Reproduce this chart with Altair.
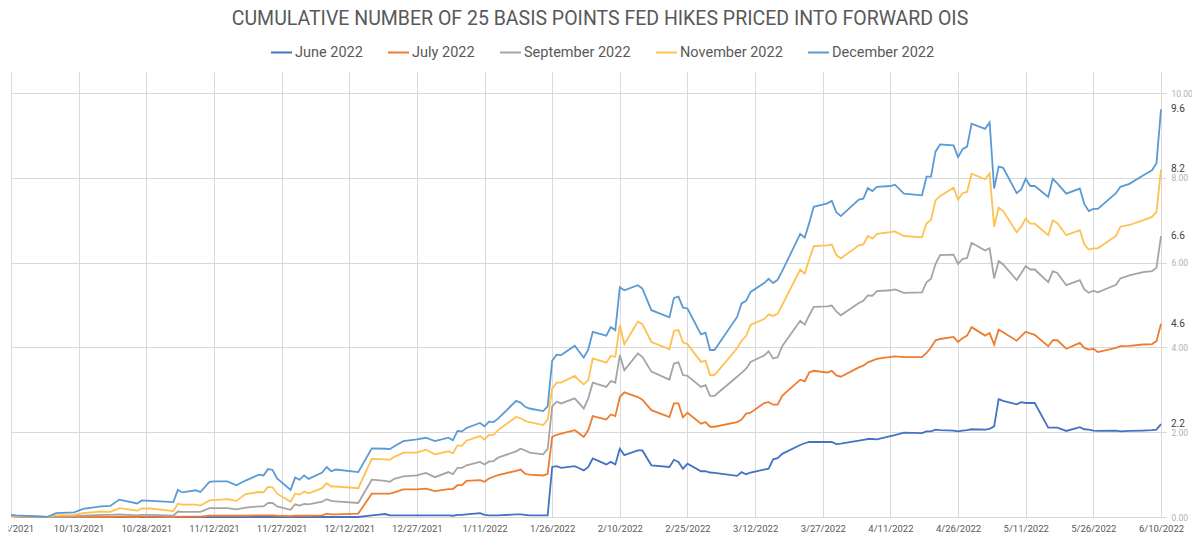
import altair as alt
import pandas as pd

dates = [
    "2021-09-28", "2021-09-29", "2021-10-06", "2021-10-08", "2021-10-12", "2021-10-14",
    "2021-10-18", "2021-10-20", "2021-10-22", "2021-10-26", "2021-10-27", "2021-10-29",
    "2021-11-03", "2021-11-04", "2021-11-05", "2021-11-08", "2021-11-09", "2021-11-11",
    "2021-11-12", "2021-11-15", "2021-11-17", "2021-11-19", "2021-11-22", "2021-11-23",
    "2021-11-24", "2021-11-25", "2021-11-26", "2021-11-29", "2021-11-30", "2021-12-01",
    "2021-12-02", "2021-12-03", "2021-12-06", "2021-12-07", "2021-12-08", "2021-12-09",
    "2021-12-14", "2021-12-17", "2021-12-20", "2021-12-21", "2021-12-22", "2021-12-24",
    "2021-12-27", "2021-12-29", "2021-12-31", "2022-01-03", "2022-01-04", "2022-01-05",
    "2022-01-06", "2022-01-07", "2022-01-10", "2022-01-11", "2022-01-12", "2022-01-13",
    "2022-01-14", "2022-01-18", "2022-01-19", "2022-01-20", "2022-01-21", "2022-01-24",
    "2022-01-25", "2022-01-26", "2022-01-27", "2022-01-28", "2022-01-31", "2022-02-01",
    "2022-02-02", "2022-02-03", "2022-02-04", "2022-02-07", "2022-02-08", "2022-02-09",
    "2022-02-10", "2022-02-11", "2022-02-14", "2022-02-15", "2022-02-17", "2022-02-21",
    "2022-02-22", "2022-02-23", "2022-02-24", "2022-02-25", "2022-02-28", "2022-03-01",
    "2022-03-02", "2022-03-03", "2022-03-08", "2022-03-09", "2022-03-10", "2022-03-11",
    "2022-03-14", "2022-03-15", "2022-03-16", "2022-03-17", "2022-03-18", "2022-03-22",
    "2022-03-23", "2022-03-24", "2022-03-25", "2022-03-28", "2022-03-29", "2022-03-30",
    "2022-03-31", "2022-04-04", "2022-04-05", "2022-04-06", "2022-04-07", "2022-04-08",
    "2022-04-11", "2022-04-12", "2022-04-14", "2022-04-18", "2022-04-19", "2022-04-20",
    "2022-04-21", "2022-04-22", "2022-04-25", "2022-04-26", "2022-04-27", "2022-04-28",
    "2022-04-29", "2022-05-02", "2022-05-03", "2022-05-04", "2022-05-05", "2022-05-06",
    "2022-05-09", "2022-05-10", "2022-05-11", "2022-05-12", "2022-05-13", "2022-05-16",
    "2022-05-17", "2022-05-18", "2022-05-20", "2022-05-23", "2022-05-24", "2022-05-25",
    "2022-05-26", "2022-05-27", "2022-05-31", "2022-06-01", "2022-06-03", "2022-06-06",
    "2022-06-08", "2022-06-09", "2022-06-10",
]

june_2022 = [
    0.03, 0.02, 0.00, 0.00, 0.00, 0.00, 0.00, 0.00, 0.00, 0.00, 0.00, 0.00,
    0.00, 0.00, 0.00, 0.00, 0.00, 0.00, 0.00, 0.00, 0.00, 0.00, 0.00, 0.00,
    0.00, 0.00, 0.00, 0.00, 0.00, 0.00, 0.00, 0.00, 0.00, 0.00, 0.00, 0.00,
    0.00, 0.04, 0.07, 0.04, 0.04, 0.04, 0.04, 0.04, 0.04, 0.04, 0.03, 0.05,
    0.05, 0.06, 0.09, 0.05, 0.04, 0.04, 0.04, 0.06, 0.06, 0.05, 0.04, 0.04,
    0.04, 1.18, 1.20, 1.16, 1.20, 1.15, 1.10, 1.18, 1.38, 1.24, 1.30, 1.24,
    1.61, 1.46, 1.57, 1.57, 1.22, 1.18, 1.35, 1.30, 1.14, 1.26, 1.08, 1.08,
    1.05, 1.04, 0.97, 1.06, 1.01, 1.05, 1.12, 1.14, 1.36, 1.39, 1.49, 1.70,
    1.74, 1.77, 1.77, 1.77, 1.77, 1.72, 1.73, 1.80, 1.82, 1.84, 1.84, 1.83,
    1.91, 1.93, 1.99, 1.98, 2.02, 2.02, 2.06, 2.05, 2.04, 2.02, 2.04, 2.05,
    2.07, 2.06, 2.08, 2.14, 2.78, 2.74, 2.66, 2.71, 2.69, 2.69, 2.69, 2.11,
    2.11, 2.11, 2.03, 2.12, 2.07, 2.06, 2.04, 2.03, 2.04, 2.02, 2.03, 2.04,
    2.05, 2.06, 2.19,
]

july_2022 = [
    0.02, 0.01, 0.00, 0.00, 0.00, 0.00, 0.00, 0.00, 0.01, 0.00, 0.01, 0.01,
    0.00, 0.01, 0.01, 0.01, 0.01, 0.03, 0.03, 0.03, 0.03, 0.03, 0.04, 0.04,
    0.04, 0.04, 0.03, 0.02, 0.03, 0.03, 0.03, 0.03, 0.04, 0.08, 0.06, 0.06,
    0.08, 0.55, 0.55, 0.55, 0.58, 0.65, 0.65, 0.67, 0.61, 0.66, 0.66, 0.75,
    0.75, 0.85, 0.87, 0.83, 0.91, 0.95, 0.99, 1.09, 1.12, 1.02, 1.00, 0.98,
    1.02, 1.89, 1.94, 1.97, 2.05, 1.97, 1.89, 2.05, 2.38, 2.30, 2.42, 2.38,
    2.83, 2.94, 2.83, 2.77, 2.52, 2.36, 2.68, 2.68, 2.35, 2.46, 2.20, 2.24,
    2.13, 2.13, 2.24, 2.30, 2.44, 2.46, 2.69, 2.71, 2.65, 2.65, 2.86, 3.24,
    3.20, 3.41, 3.45, 3.41, 3.45, 3.34, 3.31, 3.53, 3.57, 3.65, 3.69, 3.73,
    3.78, 3.79, 3.77, 3.77, 3.87, 4.00, 4.17, 4.20, 4.25, 4.13, 4.22, 4.28,
    4.48, 4.28, 4.34, 4.07, 4.42, 4.36, 4.16, 4.27, 4.37, 4.33, 4.30, 4.03,
    4.17, 4.17, 3.97, 4.11, 3.99, 3.95, 3.97, 3.89, 3.99, 4.03, 4.04, 4.07,
    4.08, 4.15, 4.56,
]

september_2022 = [
    0.03, 0.02, 0.00, 0.01, 0.02, 0.03, 0.05, 0.05, 0.06, 0.04, 0.05, 0.05,
    0.03, 0.13, 0.12, 0.12, 0.12, 0.21, 0.21, 0.21, 0.18, 0.22, 0.25, 0.25,
    0.33, 0.33, 0.25, 0.17, 0.30, 0.27, 0.31, 0.30, 0.36, 0.42, 0.38, 0.37,
    0.33, 0.88, 0.85, 0.83, 0.90, 0.96, 0.98, 1.04, 0.94, 1.06, 1.01, 1.16,
    1.16, 1.22, 1.30, 1.24, 1.31, 1.32, 1.40, 1.55, 1.61, 1.57, 1.52, 1.48,
    1.61, 2.61, 2.72, 2.68, 2.80, 2.68, 2.56, 2.80, 3.17, 3.07, 3.21, 3.17,
    3.82, 3.46, 3.86, 3.78, 3.43, 3.24, 3.62, 3.65, 3.35, 3.33, 3.07, 3.11,
    2.86, 2.86, 3.31, 3.40, 3.50, 3.66, 3.81, 3.91, 3.74, 3.77, 4.03, 4.63,
    4.54, 4.76, 4.96, 4.97, 4.99, 4.85, 4.76, 5.05, 5.10, 5.23, 5.22, 5.33,
    5.35, 5.37, 5.29, 5.30, 5.54, 5.62, 5.97, 6.18, 6.19, 5.97, 6.09, 6.11,
    6.47, 6.29, 6.34, 5.63, 6.04, 5.96, 5.59, 5.75, 5.92, 5.84, 5.84, 5.54,
    5.80, 5.76, 5.47, 5.59, 5.37, 5.29, 5.34, 5.30, 5.48, 5.63, 5.70, 5.78,
    5.80, 5.88, 6.63,
]

november_2022 = [
    0.03, 0.02, 0.00, 0.04, 0.05, 0.09, 0.13, 0.12, 0.21, 0.15, 0.20, 0.20,
    0.14, 0.31, 0.29, 0.29, 0.27, 0.39, 0.40, 0.42, 0.38, 0.54, 0.59, 0.58,
    0.71, 0.70, 0.55, 0.36, 0.55, 0.53, 0.60, 0.56, 0.68, 0.80, 0.72, 0.72,
    0.68, 1.37, 1.36, 1.35, 1.42, 1.52, 1.52, 1.59, 1.48, 1.55, 1.50, 1.69,
    1.68, 1.80, 1.91, 1.83, 1.94, 1.94, 2.05, 2.36, 2.33, 2.27, 2.24, 2.17,
    2.30, 3.03, 3.17, 3.17, 3.33, 3.22, 3.13, 3.23, 3.74, 3.64, 3.80, 3.78,
    4.53, 4.08, 4.61, 4.55, 4.13, 3.96, 4.39, 4.41, 4.12, 4.08, 3.66, 3.69,
    3.35, 3.35, 3.98, 4.16, 4.27, 4.53, 4.67, 4.78, 4.74, 4.80, 5.00, 5.84,
    5.74, 6.08, 6.39, 6.41, 6.43, 6.18, 6.10, 6.41, 6.43, 6.63, 6.57, 6.68,
    6.72, 6.74, 6.63, 6.60, 6.93, 7.01, 7.47, 7.57, 7.77, 7.49, 7.64, 7.67,
    8.10, 7.97, 8.11, 6.85, 7.30, 7.22, 6.72, 6.85, 7.04, 6.92, 6.92, 6.65,
    7.00, 6.94, 6.65, 6.77, 6.43, 6.31, 6.34, 6.34, 6.63, 6.85, 6.89, 7.00,
    7.08, 7.20, 8.20,
]

december_2022 = [
    0.05, 0.04, 0.00, 0.09, 0.11, 0.19, 0.25, 0.26, 0.41, 0.32, 0.39, 0.38,
    0.35, 0.64, 0.58, 0.63, 0.59, 0.83, 0.84, 0.84, 0.75, 0.86, 1.00, 0.98,
    1.13, 1.11, 0.91, 0.64, 0.93, 0.88, 0.98, 0.90, 1.05, 1.18, 1.08, 1.12,
    1.06, 1.62, 1.61, 1.60, 1.67, 1.79, 1.83, 1.87, 1.79, 1.87, 1.81, 2.03,
    2.02, 2.10, 2.22, 2.14, 2.25, 2.24, 2.32, 2.74, 2.70, 2.60, 2.56, 2.50,
    2.61, 3.69, 3.83, 3.82, 4.04, 3.90, 3.76, 3.95, 4.37, 4.28, 4.48, 4.41,
    5.42, 5.35, 5.47, 5.39, 4.88, 4.71, 5.17, 5.20, 4.94, 4.92, 4.31, 4.35,
    3.94, 3.94, 4.72, 5.04, 5.10, 5.31, 5.52, 5.62, 5.52, 5.60, 5.80, 6.68,
    6.59, 6.94, 7.32, 7.40, 7.46, 7.19, 7.10, 7.49, 7.51, 7.76, 7.69, 7.79,
    7.81, 7.84, 7.63, 7.59, 8.03, 8.03, 8.62, 8.79, 8.77, 8.49, 8.68, 8.74,
    9.28, 9.16, 9.31, 7.75, 8.27, 8.24, 7.64, 7.73, 7.98, 7.81, 7.81, 7.55,
    7.98, 7.87, 7.63, 7.75, 7.38, 7.22, 7.27, 7.27, 7.64, 7.79, 7.86, 8.06,
    8.18, 8.35, 9.62,
]

series_names = ["June 2022", "July 2022", "September 2022", "November 2022", "December 2022"]
series_values = [june_2022, july_2022, september_2022, november_2022, december_2022]
series_colors = ["#4472C4", "#ED7D31", "#A5A5A5", "#FFC14F", "#5B9BD5"]

tick_dates = [
    "2021-09-28", "2021-10-13", "2021-10-28", "2021-11-12", "2021-11-27", "2021-12-12",
    "2021-12-27", "2022-01-11", "2022-01-26", "2022-02-10", "2022-02-25", "2022-03-12",
    "2022-03-27", "2022-04-11", "2022-04-26", "2022-05-11", "2022-05-26", "2022-06-10",
]
y_ticks = [0, 2, 4, 6, 8, 10]

title_text = "CUMULATIVE NUMBER OF 25 BASIS POINTS FED HIKES PRICED INTO FORWARD OIS"

rows = []
for name, vals in zip(series_names, series_values):
    for d, v in zip(dates, vals):
        rows.append({"date": d, "series": name, "value": v})
df = pd.DataFrame(rows)

end_rows = [
    {"date": dates[-1], "series": name, "value": vals[-1], "label": f"{vals[-1]:.1f}"}
    for name, vals in zip(series_names, series_values)
]
end_df = pd.DataFrame(end_rows)


def ms(d):
    return int(pd.Timestamp(d, tz="UTC").value // 10**6)


tick_ms = [ms(d) for d in tick_dates]
x_domain = [ms(tick_dates[0]), ms(tick_dates[-1])]

FONT = "Roboto"

x_enc = alt.X(
    "date:T",
    scale=alt.Scale(type="utc", domain=x_domain),
    axis=alt.Axis(
        values=tick_ms,
        labelExpr="utcFormat(datum.value, '%-m/%-d/%Y')",
        grid=True,
        gridColor="#d9d9d9",
        gridWidth=1,
        ticks=False,
        domain=False,
        labelColor="#595959",
        labelFontSize=9.5,
        labelFont=FONT,
        labelPadding=6,
        labelOverlap=False,
        labelFlush=False,
        labelBound=False,
        title=None,
    ),
)

y_enc = alt.Y(
    "value:Q",
    scale=alt.Scale(domain=[0, 10.5], nice=False, zero=True),
    axis=alt.Axis(
        orient="right",
        values=y_ticks,
        format=".2f",
        grid=True,
        gridColor="#d9d9d9",
        gridWidth=1,
        domain=False,
        ticks=True,
        tickColor="#d9d9d9",
        tickSize=5,
        labelColor="#b0b0b0",
        labelFontSize=8.5,
        labelFont=FONT,
        labelPadding=5,
        title=None,
    ),
)

lines = alt.Chart(df).mark_line(strokeWidth=1.8).encode(
    x=x_enc,
    y=y_enc,
    color=alt.Color(
        "series:N",
        scale=alt.Scale(domain=series_names, range=series_colors),
        sort=series_names,
        legend=alt.Legend(
            orient="none",
            legendX=259,
            legendY=-31,
            direction="horizontal",
            title=None,
            symbolType="stroke",
            symbolStrokeWidth=2,
            symbolSize=441,
            labelFontSize=14.5,
            labelFont=FONT,
            labelColor="#595959",
            columnPadding=21,
            labelOffset=2,
        ),
    ),
    order=alt.Order("date:T"),
)

labels = alt.Chart(end_df).mark_text(
    align="left", baseline="middle", dx=10, fontSize=10, font=FONT, color="#404040"
).encode(
    x=alt.X("date:T"),
    y=alt.Y("value:Q"),
    text="label:N",
)

chart = (
    alt.layer(lines, labels)
    .properties(
        width=1150,
        height=445,
        autosize=alt.AutoSizeParams(type="none"),
        padding={"left": 3, "top": 64, "right": 31, "bottom": 17},
        title=alt.TitleParams(
            text=title_text,
            font=FONT,
            fontSize=19.5,
            fontWeight="normal",
            color="#595959",
            anchor="middle",
            offset=12,
            dx=14,
        ),
    )
    .configure_view(stroke=None)
)

chart.save("out.html", embed_options={"renderer": "svg", "actions": False})
